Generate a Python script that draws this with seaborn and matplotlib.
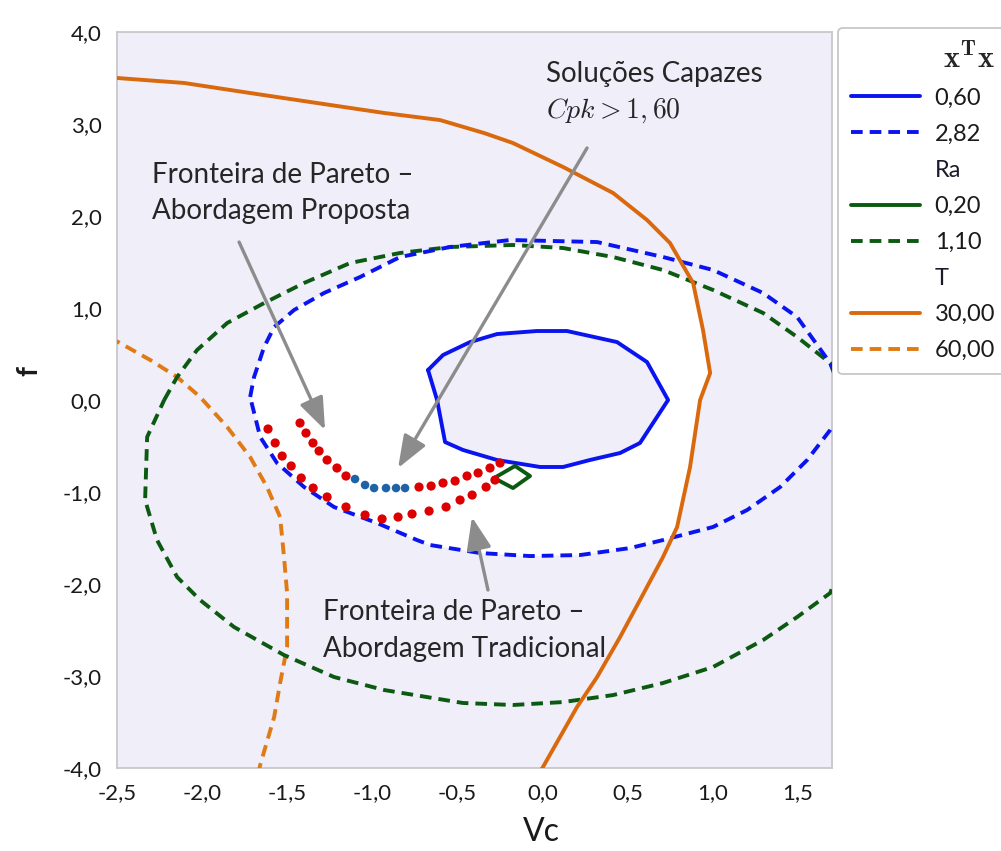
import numpy as np
import pandas as pd
import matplotlib
matplotlib.use("Agg")
import matplotlib.pyplot as plt
from matplotlib.lines import Line2D
from matplotlib.patches import Polygon
import seaborn as sns

# ---- contour lines (Vc, f) ----
# x'x = 0.60
xtx060_vc = [-0.673, -0.585, -0.426, -0.268, -0.033, 0.143, 0.437, 0.613, 0.737,
             0.572, 0.455, 0.278, 0.120, -0.015, -0.268, -0.468, -0.573, -0.620, -0.673]
xtx060_f = [0.326, 0.489, 0.630, 0.717, 0.750, 0.750, 0.630, 0.413, 0.0,
            -0.467, -0.576, -0.652, -0.728, -0.728, -0.652, -0.543, -0.457, 0.0, 0.326]

# x'x = 2.82
xtx282_vc = [-1.718, -1.695, -1.636, -1.577, -1.460, -1.284, -1.072, -0.838, -0.544,
             -0.191, 0.320, 0.708, 1.001, 1.295, 1.495, 1.689, 1.790, 1.689, 1.554,
             1.395, 1.201, 1.001, 0.707, 0.514, 0.220, -0.074, -0.368, -0.661, -0.738,
             -0.973, -1.225, -1.401, -1.560, -1.659, -1.718]
xtx282_f = [0.033, 0.250, 0.576, 0.793, 0.978, 1.163, 1.337, 1.554, 1.663,
            1.739, 1.717, 1.554, 1.413, 1.163, 0.902, 0.402, 0.0, -0.326, -0.652,
            -0.946, -1.196, -1.380, -1.522, -1.609, -1.685, -1.696, -1.663, -1.576, -1.522,
            -1.337, -1.163, -0.946, -0.685, -0.402, 0.033]

# Ra = 0.20
ra020_vc = [-0.285, -0.162, -0.074, -0.174, -0.285]
ra020_f = [-0.848, -0.717, -0.826, -0.957, -0.848]

# Ra = 1.10
ra110_vc = [-2.223, -2.147, -2.030, -1.853, -1.636, -1.401, -1.131, -0.838, -0.544,
            -0.174, 0.120, 0.414, 0.707, 1.001, 1.295, 1.495, 1.689, 1.950, 1.689,
            1.495, 1.295, 1.001, 0.707, 0.414, 0.120, -0.174, -0.468, -0.931, -1.225,
            -1.519, -1.813, -2.012, -2.147, -2.265, -2.335, -2.323, -2.223]
ra110_f = [0.0, 0.250, 0.543, 0.837, 1.054, 1.272, 1.489, 1.598, 1.663,
           1.685, 1.652, 1.554, 1.413, 1.196, 0.946, 0.685, 0.402, -0.850, -2.098,
           -2.359, -2.609, -2.902, -3.076, -3.207, -3.283, -3.315, -3.293, -3.152, -3.011,
           -2.772, -2.467, -2.174, -1.924, -1.522, -1.087, -0.402, 0.0]

# T = 30.00
t30_vc = [-2.55, -2.499, -2.106, -1.719, -1.325, -0.931, -0.603, -0.344, -0.174, 0.120,
          0.414, 0.613, 0.748, 0.884, 0.942, 0.984, 0.925, 0.866, 0.790, 0.707,
          0.572, 0.455, 0.320, 0.202, 0.002, -0.020]
t30_f = [3.505, 3.500, 3.446, 3.337, 3.228, 3.120, 3.043, 2.902, 2.793, 2.533,
         2.250, 1.957, 1.707, 1.272, 0.761, 0.293, 0.0, -0.728, -1.380, -1.707,
         -2.174, -2.576, -3.011, -3.337, -3.989, -4.050]

# T = 60.00
t60_vc = [-2.55, -2.493, -2.305, -2.147, -2.012, -1.853, -1.718, -1.619, -1.542, -1.519,
          -1.501, -1.501, -1.542, -1.577, -1.659, -1.670]
t60_f = [0.660, 0.630, 0.435, 0.250, 0.033, -0.293, -0.620, -0.946, -1.272, -1.707,
         -2.098, -2.685, -3.076, -3.446, -3.967, -4.050]

# ---- Pareto frontiers ----
prop_vc = [-1.425, -1.390, -1.349, -1.313, -1.266, -1.208, -1.155,
           -0.726, -0.655, -0.585, -0.514, -0.444, -0.379, -0.309, -0.250]
prop_f = [-0.250, -0.359, -0.467, -0.554, -0.652, -0.739, -0.826,
          -0.946, -0.935, -0.902, -0.880, -0.826, -0.793, -0.739, -0.685]

capaz_vc = [-1.102, -1.043, -0.990, -0.920, -0.861, -0.808]
capaz_f = [-0.859, -0.924, -0.957, -0.957, -0.957, -0.957]

trad_vc = [-1.613, -1.571, -1.530, -1.477, -1.418, -1.348, -1.266, -1.155, -1.043,
           -0.943, -0.849, -0.767, -0.667, -0.567, -0.485, -0.414, -0.332, -0.280]
trad_f = [-0.315, -0.467, -0.609, -0.717, -0.848, -0.957, -1.054, -1.163, -1.250,
          -1.293, -1.272, -1.239, -1.207, -1.163, -1.087, -1.033, -0.946, -0.870]

# ---- axis ticks ----
x_ticks = [-2.5, -2.0, -1.5, -1.0, -0.5, 0.0, 0.5, 1.0, 1.5]
x_tick_labels = ["-2,5", "-2,0", "-1,5", "-1,0", "-0,5", "0,0", "0,5", "1,0", "1,5"]
y_ticks = [-4.0, -3.0, -2.0, -1.0, 0.0, 1.0, 2.0, 3.0, 4.0]
y_tick_labels = ["-4,0", "-3,0", "-2,0", "-1,0", "0,0", "1,0", "2,0", "3,0", "4,0"]

legend_labels = ["0,60", "2,82", "Ra", "0,20", "1,10", "T", "30,00", "60,00"]

# ---- style ----
sns.set_theme(style="white")
plt.rcParams["font.family"] = ["Lato", "DejaVu Sans"]
plt.rcParams["mathtext.fontset"] = "cm"

LAVENDER = "#f0eef9"
BLUE = "#0a14ee"
GREEN = "#0c5a12"
ORANGE = "#d9690c"
ORANGE_D = "#e07a14"
GREY = "#8c8c8c"
TXT = "#262626"
DASH = (0, (3.0, 1.8))
LW = 2.8

fig = plt.figure(figsize=(10.01, 8.51), dpi=100)
ax = fig.add_axes([0.1169, 0.0975, 0.7143, 0.8649])
ax.set_facecolor(LAVENDER)
ax.set_xlim(-2.5, 1.7)
ax.set_ylim(-4.0, 4.0)

# feasible (white) region: inside x'x=2.82 and Ra=1.10, outside x'x=0.60, left of T=30
ra_clip = Polygon(np.column_stack([ra110_vc, ra110_f]), closed=True,
                  transform=ax.transData)
white = ax.fill(xtx282_vc, xtx282_f, color="white", lw=0, zorder=0.5)[0]
white.set_clip_path(ra_clip)
ax.fill(xtx060_vc, xtx060_f, color=LAVENDER, lw=0, zorder=0.6)
t_region_vc = t30_vc + [0.0, 2.2, 2.2, -2.6, -2.6]
t_region_f = t30_f + [-4.5, -4.5, 4.5, 4.5, 3.505]
ax.fill(t_region_vc, t_region_f, color=LAVENDER, lw=0, zorder=0.7)

def contour(vc, f, color, ls):
    sns.lineplot(x=vc, y=f, sort=False, estimator=None, color=color, lw=LW,
                 linestyle=ls, ax=ax, legend=False, zorder=3)

contour(t60_vc, t60_f, ORANGE_D, DASH)
contour(ra110_vc, ra110_f, GREEN, DASH)
contour(xtx282_vc, xtx282_f, BLUE, DASH)
contour(t30_vc, t30_f, ORANGE, "-")
contour(xtx060_vc, xtx060_f, BLUE, "-")
contour(ra020_vc, ra020_f, GREEN, "-")

# Pareto frontiers
sns.scatterplot(x=trad_vc, y=trad_f, color="#dd0000", s=44, edgecolor="none",
                ax=ax, legend=False, zorder=4)
sns.scatterplot(x=prop_vc, y=prop_f, color="#dd0000", s=44, edgecolor="none",
                ax=ax, legend=False, zorder=4)
sns.scatterplot(x=capaz_vc, y=capaz_f, color="#1f62a8", s=38, edgecolor="none",
                ax=ax, legend=False, zorder=4)

# callouts
arrow = dict(arrowstyle="-|>,head_length=1.1,head_width=0.42", mutation_scale=18,
             color=GREY, lw=2.4, shrinkA=0, shrinkB=0)
ax.annotate("", xy=(-1.278, -0.326), xytext=(-1.783, 1.717), arrowprops=arrow, zorder=5)
ax.annotate("", xy=(-0.849, -0.739), xytext=(0.261, 2.739), arrowprops=arrow, zorder=5)
ax.annotate("", xy=(-0.415, -1.272), xytext=(-0.321, -2.065), arrowprops=arrow, zorder=5)

ax.text(-2.294, 2.359, "Fronteira de Pareto \u2013", fontsize=20, color=TXT, va="baseline")
ax.text(-2.294, 1.967, "Abordagem Proposta", fontsize=20, color=TXT, va="baseline")
ax.text(-1.289, -2.391, "Fronteira de Pareto \u2013", fontsize=20, color=TXT, va="baseline")
ax.text(-1.289, -2.793, "Abordagem Tradicional", fontsize=20, color=TXT, va="baseline")
ax.text(0.020, 3.457, "Solu\u00e7\u00f5es Capazes", fontsize=20, color=TXT, va="baseline")
ax.text(0.020, 3.065, r"$Cpk > 1,60$", fontsize=20, color=TXT, va="baseline")

# axes cosmetics
ax.set_xticks(x_ticks)
ax.set_xticklabels(x_tick_labels)
ax.set_yticks(y_ticks)
ax.set_yticklabels(y_tick_labels)
ax.tick_params(direction="out", length=7, width=1.2, color="#a8a8a8",
               labelsize=16, labelcolor="#1a1a1a", pad=4)
for sp in ax.spines.values():
    sp.set_visible(True)
    sp.set_color("#c8c8c8")
    sp.set_linewidth(1.3)
ax.set_xlabel("Vc", fontsize=23, color="#1a1a1a")
ax.set_ylabel("f", fontsize=20, fontweight="bold", color="#1a1a1a", rotation=90)
ax.xaxis.set_label_coords(0.593, -0.087)
ax.xaxis.label.set_va("center")
ax.yaxis.set_label_coords(-0.122, 0.54)
ax.yaxis.label.set_va("center")

# legend
blank = Line2D([], [], linestyle="none")
handles = [
    Line2D([], [], color=BLUE, lw=LW),
    Line2D([], [], color=BLUE, lw=LW, linestyle=DASH),
    blank,
    Line2D([], [], color=GREEN, lw=LW),
    Line2D([], [], color=GREEN, lw=LW, linestyle=DASH),
    blank,
    Line2D([], [], color=ORANGE, lw=LW),
    Line2D([], [], color=ORANGE_D, lw=LW, linestyle=DASH),
]
leg = fig.legend(handles, legend_labels, loc="upper left",
                 bbox_to_anchor=(0.837, 0.967), borderaxespad=0,
                 title=r"$\mathbf{x^{T}x}$", title_fontsize=22, fontsize=17,
                 handlelength=2.95, handletextpad=0.6, labelspacing=0.64,
                 borderpad=0.55, frameon=True, fancybox=True, alignment="right")
leg.get_frame().set_edgecolor("#b4b4b4")
leg.get_frame().set_linewidth(1.2)
for i, t in enumerate(leg.get_texts()):
    t.set_color("#1a1a1a")
    if legend_labels[i] in ("Ra", "T"):
        t.set_fontsize(17)
        t.set_color("#1a1a2a")

fig.savefig("out.png", dpi=100, facecolor="white")
